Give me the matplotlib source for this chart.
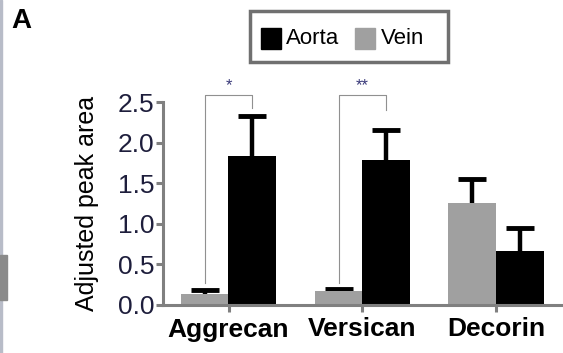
import numpy as np
import matplotlib.pyplot as plt
from matplotlib.patches import Rectangle

plt.rcParams['font.family'] = ['Liberation Sans', 'DejaVu Sans']

# data
genes = ['Aggrecan', 'Versican', 'Decorin']
vein = [0.13, 0.17, 1.26]
vein_err = [0.05, 0.03, 0.29]
aorta = [1.83, 1.79, 0.67]
aorta_err = [0.50, 0.37, 0.28]
yticks = [0.0, 0.5, 1.0, 1.5, 2.0, 2.5]

axis_grey = '#808080'
vein_col = '#a0a0a0'
tick_col = '#1e1e3c'

fig = plt.figure(figsize=(5.63, 3.53), dpi=100)
ax = fig.add_axes([163/563, 1-305/353, 1-163/563, (305-102)/353])

x = np.arange(len(genes))
w = 0.357
off = 0.178
ax.bar(x - off, vein, w, color=vein_col, zorder=2)
ax.bar(x + off, aorta, w, color='black', zorder=2)

# upper-only error bars with a cap on top
for xs, vals, errs in [(x - off, vein, vein_err), (x + off, aorta, aorta_err)]:
    tops = np.array(vals) + np.array(errs)
    ax.vlines(xs, vals, tops, color='black', lw=3.2, zorder=1)
    ax.plot(xs, tops, ls='none', marker='_', ms=20, mew=3.5, color='black',
            zorder=1)

ax.set_xlim(-0.49, 2.5)
ax.set_ylim(0, 2.5)
ax.set_yticks(yticks)
ax.set_yticklabels(['%.1f' % t for t in yticks])
ax.set_xticks(x)
ax.set_xticklabels(genes, fontsize=19, fontweight='bold')

for s in ['top', 'right']:
    ax.spines[s].set_visible(False)
for s in ['left', 'bottom']:
    ax.spines[s].set_color(axis_grey)
    ax.spines[s].set_linewidth(2.2)
ax.tick_params(axis='y', colors=axis_grey, labelcolor=tick_col, labelsize=19,
               length=5, width=2.2, pad=1)
ax.tick_params(axis='x', colors=axis_grey, labelcolor='black',
               length=5, width=2.2, pad=4)
ax.set_ylabel('Adjusted peak area', fontsize=18, labelpad=14)

# significance brackets
for gi, stars, lb, rb in [(0, '*', 0.27, 2.42), (1, '**', 0.27, 2.40)]:
    xl, xr = gi - off, gi + off
    top = 2.59
    ax.plot([xl, xl, xr, xr], [lb, top, top, rb], color='#909090', lw=0.8,
            clip_on=False, zorder=3)
    ax.text(gi, top + 0.02, stars, ha='center', va='bottom', fontsize=12,
            color='#3a3a7a', clip_on=False)

# legend box
fig.patches.append(Rectangle((250/563, 1-62/353), 198/563, 51/353,
                             transform=fig.transFigure, fill=False,
                             edgecolor='#707070', lw=2.5))
fig.patches.append(Rectangle((261/563, 1-49/353), 20/563, 21/353,
                             transform=fig.transFigure, color='black'))
fig.text(286/563, 1-38/353, 'Aorta', fontsize=16, va='center', ha='left')
fig.patches.append(Rectangle((355/563, 1-49/353), 20/563, 21/353,
                             transform=fig.transFigure, color=vein_col))
fig.text(381/563, 1-38/353, 'Vein', fontsize=16, va='center', ha='left')

fig.text(11/563, 1-21/353, 'A', fontsize=20, fontweight='bold', va='center')

# screenshot left edge
fig.patches.append(Rectangle((0, 0), 2/563, 1, transform=fig.transFigure,
                             color='#b8bcc8'))
fig.patches.append(Rectangle((0, 1-300/353), 7/563, 45/353,
                             transform=fig.transFigure, color='#8a8a8a'))

fig.savefig('out.png', dpi=100)
